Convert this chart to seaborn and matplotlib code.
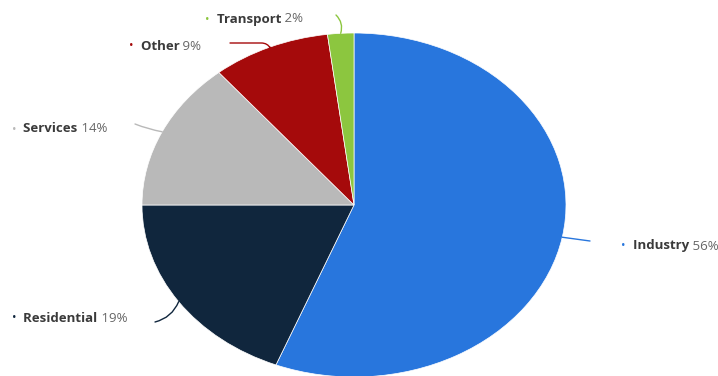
import matplotlib
matplotlib.use("Agg")
import matplotlib.pyplot as plt
import seaborn as sns
import numpy as np

categories = ["Industry", "Residential", "Services", "Other", "Transport"]
shares = [56, 19, 14, 9, 2]
colors = ["#2876dd", "#10263d", "#b9b9b9", "#a50a0b", "#8cc63f"]

sns.set_theme(style="white")
plt.rcParams['font.family'] = ['Open Sans', 'DejaVu Sans']

W, H = 718, 376
fig = plt.figure(figsize=(W / 100, H / 100), dpi=100)
fig.patch.set_facecolor("white")
ax = fig.add_axes([142 / W, (H - 377) / H, 424 / W, 344 / H])

wedges, _ = ax.pie(shares, colors=colors, startangle=90, counterclock=False,
                   wedgeprops=dict(linewidth=0.5, edgecolor="white"))
ax.set_aspect("auto")
ax.set_xlim(-1, 1)
ax.set_ylim(-1, 1)
ax.axis("off")

# connector end and bullet position, in image pixels (y from top)
label_layout = {
    "Industry":    dict(conn=(590, 241), text=(621, 246), cs="arc3,rad=0.0"),
    "Residential": dict(conn=(155, 322), text=(12, 318), cs="arc3,rad=0.25"),
    "Services":    dict(conn=(135, 124), text=(12, 129), cs="arc3,rad=0.05"),
    "Other":       dict(conn=(230, 43), text=(129, 46), cs="angle,angleA=0,angleB=-60,rad=6"),
    "Transport":   dict(conn=(336, 15), text=(205, 19), cs="arc3,rad=-0.3"),
}

fs = 9.5
for w, cat, val, col in zip(wedges, categories, shares, colors):
    lay = label_layout[cat]
    mid = np.deg2rad((w.theta1 + w.theta2) / 2)
    x0, y0 = np.cos(mid), np.sin(mid)
    cx, cy = lay["conn"]
    ax.annotate("", xy=(x0, y0), xycoords="data",
                xytext=(cx, H - cy), textcoords="figure pixels",
                arrowprops=dict(arrowstyle="-", color=col, lw=1.0,
                                shrinkA=0, shrinkB=0,
                                connectionstyle=lay["cs"]))
    tx, ty = lay["text"]
    b = fig.text(tx / W, (H - ty) / H, "•", color=col, fontsize=fs - 1,
                 va="center", ha="left")
    n = ax.annotate(f"  {cat}", xy=(1, 0.5), xycoords=b, va="center", ha="left",
                    fontsize=fs, fontweight="bold", color="#3a3a3a")
    ax.annotate(f" {val}%", xy=(1, 0.5), xycoords=n, va="center", ha="left",
                fontsize=fs, color="#666666")

fig.savefig("out.png", dpi=100, facecolor="white")
